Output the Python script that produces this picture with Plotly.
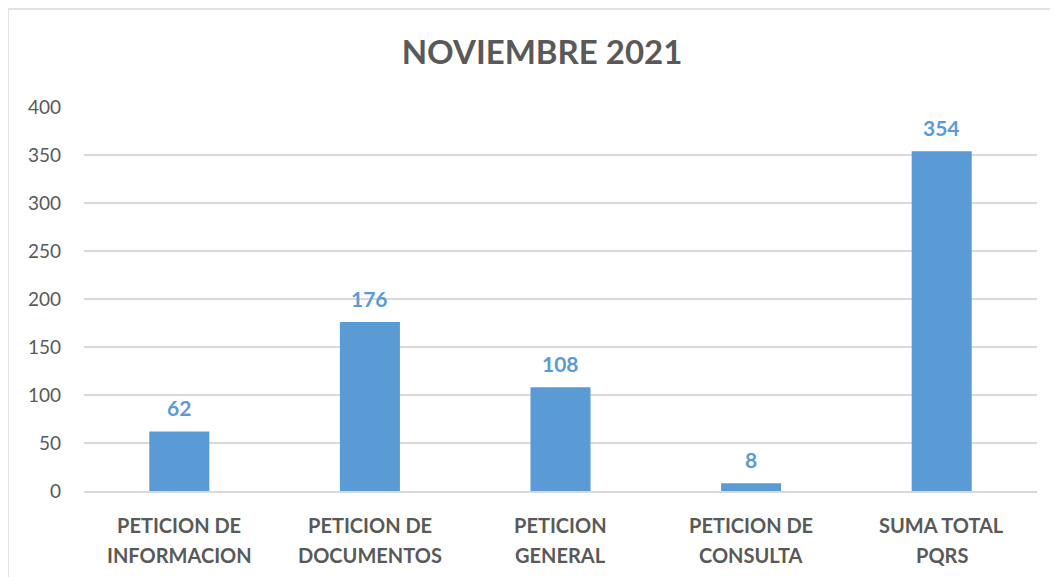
import plotly.graph_objects as go

label_line1 = ["PETICION DE", "PETICION DE", "PETICION", "PETICION DE", "SUMA TOTAL"]
label_line2 = ["INFORMACION", "DOCUMENTOS", "GENERAL", "CONSULTA", "PQRS"]
categories = [a + " " + b for a, b in zip(label_line1, label_line2)]
values = [62, 176, 108, 8, 354]
y_ticks = [0, 50, 100, 150, 200, 250, 300, 350, 400]
title_text = "NOVIEMBRE 2021"

BLUE = "#5B9BD5"
GRAY = "#595959"
FONT = "Lato"

# page is offset by the browser's 8px body margin
W, H = 1050, 569
L, T, R, B = 76, 99, 21, 86
PW = W - L - R
PH = H - T - B

fig = go.Figure()
fig.add_trace(go.Bar(x=categories, y=values, marker=dict(color=BLUE, line=dict(width=0)),
                     width=0.315, hoverinfo="skip"))

for c, v in zip(categories, values):
    fig.add_annotation(x=c, y=v, text=f"<b>{v}</b>", showarrow=False, yanchor="bottom",
                       yshift=9, font=dict(family=FONT, size=21, color=BLUE))

# two-line category labels with Excel-like line spacing
for c, l1, l2 in zip(categories, label_line1, label_line2):
    fig.add_annotation(x=c, y=0, text=f"<b>{l1}</b>", showarrow=False, yanchor="middle",
                       yshift=-34, font=dict(family=FONT, size=20, color=GRAY))
    fig.add_annotation(x=c, y=0, text=f"<b>{l2}</b>", showarrow=False, yanchor="middle",
                       yshift=-64, font=dict(family=FONT, size=20, color=GRAY))

fig.update_layout(
    width=W, height=H,
    margin=dict(l=L, r=R, t=T, b=B),
    paper_bgcolor="white", plot_bgcolor="white",
    showlegend=False,
    title=dict(text=f"<b>{title_text}</b>", x=534 / W, xanchor="center", y=1 - 44 / H, yanchor="middle",
               font=dict(family=FONT, size=33, color=GRAY)),
    font=dict(family=FONT, color=GRAY),
)
fig.update_xaxes(showgrid=False, showline=True, linecolor="#D9D9D9", linewidth=2,
                 showticklabels=False, ticks="")
fig.update_yaxes(range=[0, 400], tickvals=y_ticks, showgrid=True, gridcolor="#D9D9D9", gridwidth=1.5,
                 zeroline=False, showline=False, ticks="", ticklabelstandoff=22,
                 tickfont=dict(family=FONT, size=19, color=GRAY))

# chart border (left and top; figure px coords converted to paper coords)
for x0, y0, x1, y1 in [(0, 1, 0, H), (0, 1, W, 1)]:
    fig.add_shape(type="line", xref="paper", yref="paper",
                  x0=(x0 - L) / PW, x1=(x1 - L) / PW,
                  y0=(T + PH - y0) / PH, y1=(T + PH - y1) / PH,
                  line=dict(color="#D9D9D9", width=1.5))

fig.write_html("out.html")
